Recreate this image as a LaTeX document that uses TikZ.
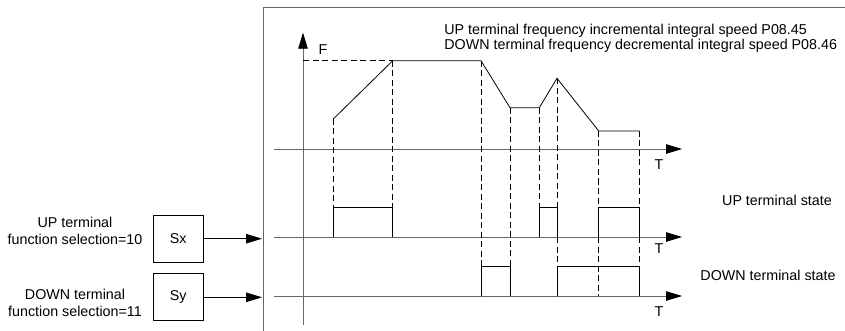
\documentclass[tikz,border=0pt]{standalone}
\usepackage{fontspec}
\setmainfont{Liberation Sans}
\usetikzlibrary{positioning, calc, arrows.meta}

\begin{document}
\begin{tikzpicture}[x=1pt, y=-1pt, line width=0.8pt,
    font=\fontsize{14.3}{15}\selectfont,
    axis/.style={black!60, -{Triangle[length=16pt, width=9.5pt, color=black]}},
    guide/.style={dash pattern=on 6pt off 3.5pt},
    termbox/.style={draw, minimum width=50pt, minimum height=47pt, inner sep=0pt}]

    \useasboundingbox (0,0) rectangle (845,331);

    % Frame round the timing chart
    \draw[black!60] (263,331) -- (263,7) -- (845,7);

    % Axes
    \draw[axis] (303,325) -- (303,32.7);
    \node (flab) at (323,50) {F};
    \draw[axis] (274,149) -- (682,149);
    \node (tf) at (659,165) {T};
    \draw[axis] (274,237) -- (682,237);
    \node (tu) at (659,249) {T};
    \draw[axis] (274,296) -- (682,296);
    \node (td) at (659,312) {T};

    % Frequency curve
    \draw[guide] (303,60.7) -- (392.7,60.7);
    \draw (333.3,119) -- (392.7,60.7) -- (481,60.7) -- (510,107.7) -- (539.3,107.7)
          -- (557,78.3) -- (598.7,131) -- (639.3,131);

    % UP terminal pulses
    \draw (333.3,237) -- (333.3,207) -- (392.7,207) -- (392.7,237);
    \draw (539.3,237) -- (539.3,207) -- (557,207) -- (557,237);
    \draw (598.7,237) -- (598.7,207) -- (639.3,207) -- (639.3,237);

    % DOWN terminal pulses
    \draw (481,296) -- (481,266.7) -- (510,266.7) -- (510,296);
    \draw (557,296) -- (557,266.7) -- (639.3,266.7) -- (639.3,296);

    % Dashed guide lines
    \draw[guide] (333.3,119) -- (333.3,207);
    \draw[guide] (392.7,60.7) -- (392.7,207);
    \draw[guide] (481,60.7) -- (481,266.7);
    \draw[guide] (510,107.7) -- (510,266.7);
    \draw[guide] (539.3,107.7) -- (539.3,207);
    \draw[guide] (557,78.3) -- (557,207);
    \draw[guide] (557,237) -- (557,266.7);
    \draw[guide] (598.7,131) -- (598.7,207);
    \draw[guide] (598.7,237) -- (598.7,296);
    \draw[guide] (639.3,131) -- (639.3,207);
    \draw[guide] (639.3,237) -- (639.3,266.7);

    % Terminal blocks
    \node[termbox] (sx) at (178.3,238.7) {Sx};
    \node[termbox] (sy) at (178.3,297.3) {Sy};
    \coordinate (edge) at (262,0);
    \draw[axis, black] (sx.east) -- (sx.east -| edge);
    \draw[axis, black] (sy.east) -- (sy.east -| edge);

    % Texts
    \node[align=center] (upsel) at (75,231) {UP terminal\\[1.5pt]function selection=10};
    \node[align=center] (dnsel) at (75,303) {DOWN terminal\\[1.5pt]function selection=11};
    \node[anchor=west, align=left, inner sep=0pt] (speed) at (444,38.7)
        {UP terminal frequency incremental integral speed P08.45\\
         DOWN terminal frequency decremental integral speed P08.46};
    \node (upst) at (777,200) {UP terminal state};
    \node (dnst) at (768,275) {DOWN terminal state};

\end{tikzpicture}
\end{document}
